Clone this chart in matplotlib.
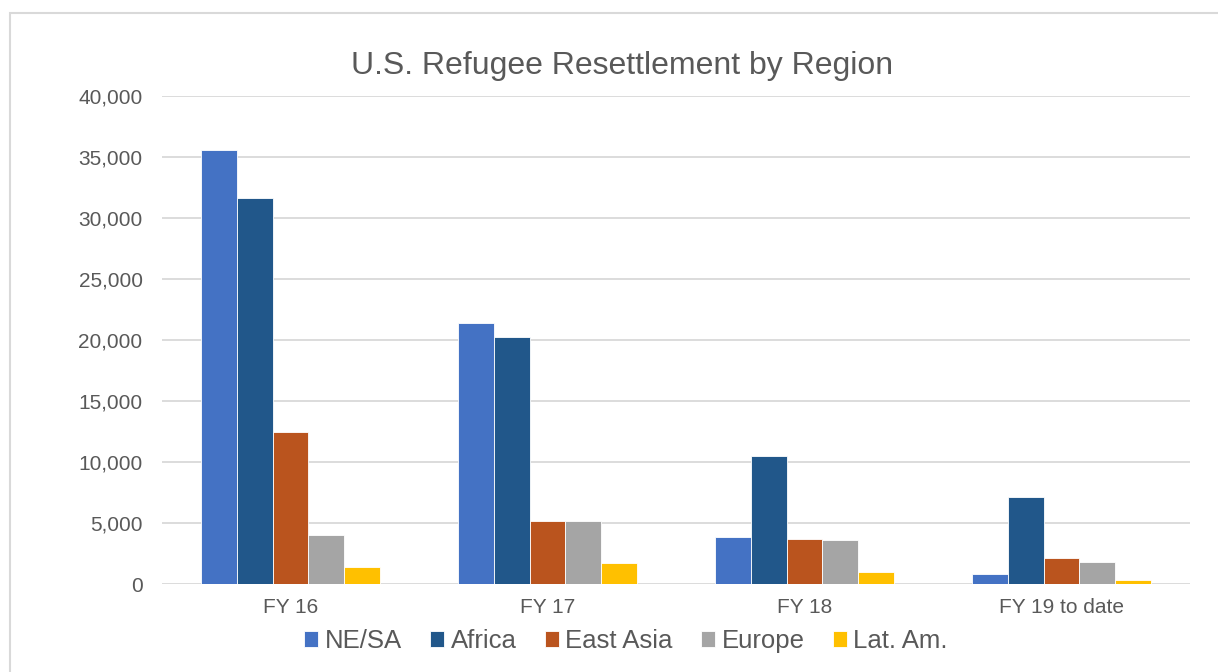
import matplotlib
matplotlib.use("Agg")
import matplotlib.pyplot as plt
import numpy as np

categories = ["FY 16", "FY 17", "FY 18", "FY 19 to date"]
series_names = ["NE/SA", "Africa", "East Asia", "Europe", "Lat. Am."]
ne_sa = [35600, 21400, 3830, 820]
africa = [31600, 20270, 10490, 7160]
east_asia = [12500, 5190, 3660, 2130]
europe = [3990, 5190, 3600, 1800]
lat_am = [1370, 1720, 980, 330]
colors = ["#4472C4", "#21578A", "#BA541E", "#A5A5A5", "#FFC000"]
yticks = [0, 5000, 10000, 15000, 20000, 25000, 30000, 35000, 40000]

series = [ne_sa, africa, east_asia, europe, lat_am]

plt.rcParams['font.family'] = ['Liberation Sans', 'DejaVu Sans']
fig = plt.figure(figsize=(12.18, 6.72), dpi=100)
ax = fig.add_axes([162/1218, 1-584/672, (1190-162)/1218, (584-96)/672])

x = np.arange(len(categories))
bw = 0.139
for i, (vals, name, c) in enumerate(zip(series, series_names, colors)):
    ax.bar(x + (i - 2) * bw, vals, width=bw, color=c, label=name,
           edgecolor="white", linewidth=0.6, zorder=3)

ax.set_xlim(-0.5, len(categories) - 0.5)
ax.set_ylim(0, 40000)
ax.set_yticks(yticks)
ax.set_yticklabels([f"{v:,}" for v in yticks])
ax.set_xticks(x)
ax.set_xticklabels(categories)
ax.yaxis.grid(True, color="#D9D9D9", linewidth=1.3, zorder=0)
for s in ax.spines.values():
    s.set_visible(False)
ax.tick_params(axis="both", length=0, colors="#595959", labelsize=15)
ax.tick_params(axis="y", pad=14)
ax.tick_params(axis="x", pad=10)

fig.text(622/1218, 1-66/672, "U.S. Refugee Resettlement by Region", ha="center",
         va="center", fontsize=23, color="#595959")

leg = fig.legend(loc="center", bbox_to_anchor=(626/1218, 1-641/672), ncol=5,
                 frameon=False, fontsize=18.5, labelcolor="#595959",
                 handlelength=0.55, handleheight=0.55, handletextpad=0.25,
                 columnspacing=1.1)

# chart border
fig.patches.append(plt.Rectangle((10/1218, -0.05), 1.1, 1-13/672+0.05,
                                 transform=fig.transFigure, fill=False,
                                 edgecolor="#D9D9D9", linewidth=1.5))

fig.savefig("out.png", dpi=100)
